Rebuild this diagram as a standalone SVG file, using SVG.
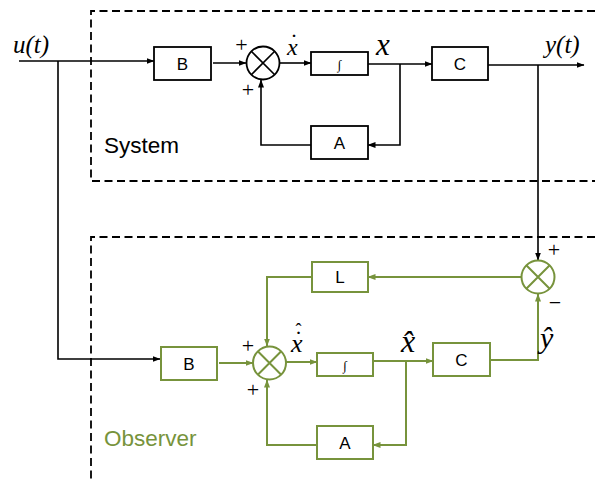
<svg xmlns="http://www.w3.org/2000/svg" width="595" height="480" viewBox="0 0 595 480">
<style>
.blk{fill:#fff;stroke:#000;stroke-width:1.8}
.grn{fill:#fff;stroke:#77933C;stroke-width:2}
.wb{fill:none;stroke:#000;stroke-width:1.6}
.wg{fill:none;stroke:#77933C;stroke-width:2}
.dash{fill:none;stroke:#000;stroke-width:1.8;stroke-dasharray:8,4.5}
.lbl{font-family:"Liberation Sans",Arial,sans-serif;font-size:17px;text-anchor:middle;fill:#000}
.int{font-family:"Liberation Serif","Times New Roman",serif;font-size:13px;text-anchor:middle;fill:#000}
.m{font-family:"Liberation Serif","Times New Roman",serif;font-style:italic;fill:#000}
.acc{font-style:normal}
.sgn{font-family:"Liberation Serif","Times New Roman",serif;font-size:22px;fill:#000;text-anchor:middle}
.title{font-family:"Liberation Sans",Arial,sans-serif;font-size:22.5px}
</style>
<defs>
<marker id="ab" markerUnits="userSpaceOnUse" markerWidth="8" markerHeight="6" refX="7.5" refY="3" orient="auto"><path d="M0,0 L8,3 L0,6 z" fill="#000"/></marker>
<marker id="ag" markerUnits="userSpaceOnUse" markerWidth="8" markerHeight="6" refX="7.5" refY="3" orient="auto"><path d="M0,0 L8,3 L0,6 z" fill="#77933C"/></marker>
</defs>

<g id="frames">
<path class="dash" d="M595,11 H91 V181 H595"/>
<path class="dash" d="M595,237 H91 V480"/>
<text class="title" x="104" y="153" fill="#000">System</text>
<text class="title" x="104" y="446" fill="#77933C">Observer</text>
</g>

<g id="connectors">
<path class="wb" d="M19,61 H154" marker-end="url(#ab)"/>
<path class="wb" d="M58,61 V359 H160" marker-end="url(#ab)"/>
<path class="wb" d="M213,63 H246" marker-end="url(#ab)"/>
<path class="wb" d="M280,63 H311" marker-end="url(#ab)"/>
<path class="wb" d="M368,64 H432" marker-end="url(#ab)"/>
<path class="wb" d="M400,64 V145 H368" marker-end="url(#ab)"/>
<path class="wb" d="M311,145 H261 V80" marker-end="url(#ab)"/>
<path class="wb" d="M488,65 H584" marker-end="url(#ab)"/>
<path class="wb" d="M538,65 V260" marker-end="url(#ab)"/>

<path class="wg" d="M219,363 H253" marker-end="url(#ag)"/>
<path class="wg" d="M286,362 H317" marker-end="url(#ag)"/>
<path class="wg" d="M373,361 H433" marker-end="url(#ag)"/>
<path class="wg" d="M406,361 V445 H373" marker-end="url(#ag)"/>
<path class="wg" d="M317,445 H267 V380" marker-end="url(#ag)"/>
<path class="wg" d="M490,360 H538 V294" marker-end="url(#ag)"/>
<path class="wg" d="M521,277 H368" marker-end="url(#ag)"/>
<path class="wg" d="M312,277 H267 V346" marker-end="url(#ag)"/>
</g>

<g id="sys-B"><rect class="blk" x="154" y="47" width="57" height="33"/><text class="lbl" x="182.5" y="69.5">B</text></g>
<g id="sys-int"><rect class="blk" x="311" y="52" width="57" height="23"/><text class="int" x="339.5" y="69">∫</text></g>
<g id="sys-C"><rect class="blk" x="432" y="47" width="56" height="33"/><text class="lbl" x="460" y="69.5">C</text></g>
<g id="sys-A"><rect class="blk" x="311" y="126" width="57" height="33"/><text class="lbl" x="339.5" y="149">A</text></g>
<g id="sys-sum">
<circle class="blk" cx="263" cy="63" r="16.5"/>
<path class="wb" d="M251.3,51.3 L274.7,74.7 M274.7,51.3 L251.3,74.7" stroke-width="1.8"/>
<text class="sgn" x="241.5" y="52">+</text>
<text class="sgn" x="248" y="96.5">+</text>
</g>

<g id="obs-B"><rect class="grn" x="161" y="347" width="56" height="33"/><text class="lbl" x="189" y="369.5">B</text></g>
<g id="obs-int"><rect class="grn" x="317" y="353" width="56" height="23"/><text class="int" x="345" y="370">∫</text></g>
<g id="obs-C"><rect class="grn" x="433" y="343" width="57" height="33"/><text class="lbl" x="461.5" y="365.5">C</text></g>
<g id="obs-A"><rect class="grn" x="317" y="426" width="56" height="33"/><text class="lbl" x="345" y="449">A</text></g>
<g id="obs-L"><rect class="grn" x="312" y="262" width="56" height="30"/><text class="lbl" x="340" y="283">L</text></g>
<g id="obs-sum">
<circle class="grn" cx="269.5" cy="363" r="16.5"/>
<path class="wg" d="M257.8,351.3 L281.2,374.7 M281.2,351.3 L257.8,374.7"/>
<text class="sgn" x="248" y="353">+</text>
<text class="sgn" x="253" y="397">+</text>
</g>
<g id="obs-err">
<circle class="grn" cx="538" cy="277" r="16.5"/>
<path class="wg" d="M526.3,265.3 L549.7,288.7 M549.7,265.3 L526.3,288.7"/>
<text class="sgn" x="554" y="256.5">+</text>
<text class="sgn" x="555" y="309.5">−</text>
</g>

<g id="labels">
<text class="m" x="13" y="53" font-size="25">u(t)</text>
<text class="m" x="545" y="53" font-size="25">y(t)</text>
<text class="m" font-size="24"><tspan x="287" y="55">x</tspan><tspan class="acc" x="290" y="50">˙</tspan></text>
<text class="m" x="376" y="55" font-size="31">x</text>
<text class="m" font-size="26"><tspan x="291" y="352">x</tspan><tspan class="acc" font-size="24" x="294.5" y="347.4">˙</tspan><tspan class="acc" font-size="18" x="295.5" y="336">ˆ</tspan></text>
<text class="m" x="401" y="352" font-size="32">x&#x302;</text>
<text class="m" x="540" y="348" font-size="30">ŷ</text>
</g>
</svg>
